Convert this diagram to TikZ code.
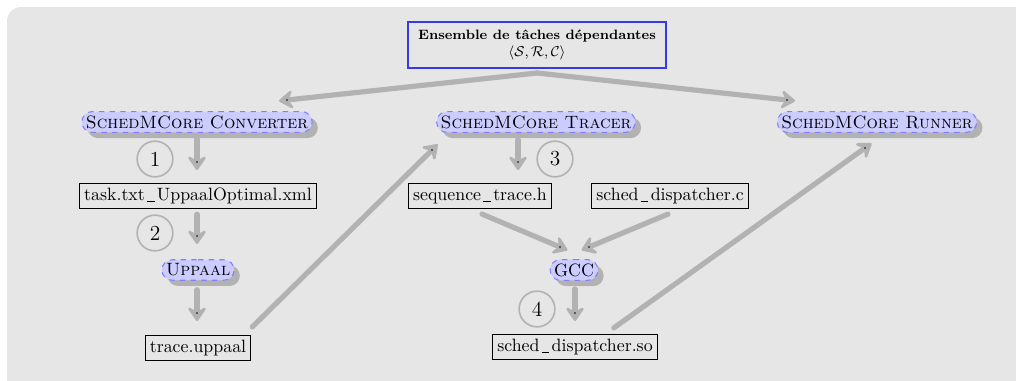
\documentclass[tikz,border=0pt]{standalone}
\usetikzlibrary{arrows.meta,shadows,shapes.misc,calc}
\definecolor{bg}{HTML}{E6E6E6}
\definecolor{ensblue}{rgb}{0.22,0.22,0.92}
\newcommand\myus{\kern.13em\rule[-0.1ex]{0.42em}{0.4pt}\kern.13em}
\begin{document}
\begin{tikzpicture}[x=0.56pt,y=-0.56pt,
 tool/.style={rounded rectangle, fill=blue!20, draw=blue!50, dashed, line width=0.6pt,
   drop shadow={shadow xshift=3.2pt,shadow yshift=-3.2pt,fill=black!30,opacity=1},
   inner xsep=1pt, inner ysep=2.2pt},
 file/.style={draw=black, line width=0.6pt, inner sep=2.6pt},
 num/.style={circle, draw=black!30, line width=0.9pt, minimum size=20pt, inner sep=0pt, font=\large},
 arr/.style={line width=2.9pt, draw=black!30, line cap=round,
   -{Stealth[round,length=9.5pt,width=13pt,inset=3.8pt]}, shorten >=-4.5pt},
]
\useasboundingbox (0,0) rectangle (1016,381);
\begin{scope}
\clip (0,0) rectangle (1016,381);
\fill[bg, rounded corners=8pt] (7,7) rectangle (1040,400);
\end{scope}

% nodes
\node[draw=ensblue, line width=1.1pt, inner xsep=5.5pt, inner ysep=4.3pt, align=center, font=\fontsize{7.6}{9.6}\selectfont] (ens) at (537,45)
  {\textbf{Ensemble de tâches dépendantes}\\$\langle\mathcal{S},\mathcal{R},\mathcal{C}\rangle$};
\node[tool] (conv) at (197,122) {\textsc{SchedMCore Converter}};
\node[tool] (trac) at (536,122) {\textsc{SchedMCore Tracer}};
\node[tool] (run) at (877,122) {\textsc{SchedMCore Runner}};
\node[file] (task) at (198,196) {task.txt\myus UppaalOptimal.xml};
\node[tool] (upp) at (198,270) {\textsc{Uppaal}};
\node[file] (tru) at (198,348) {trace.uppaal};
\node[file] (seq) at (480,196) {sequence\myus trace.h};
\node[file] (disc) at (670,196) {sched\myus dispatcher.c};
\node[tool] (gcc) at (574,270) {GCC};
\node[file] (so) at (575,347) {sched\myus dispatcher.so};

\node[num] (n1) at (155,159) {1};
\node[num] (n2) at (155,233) {2};
\node[num] (n3) at (555,159) {3};
\node[num] (n4) at (537,309) {4};

% arrow end points
\coordinate (top) at (537,73);
\coordinate (dconv) at (287,100);
\coordinate (drun) at (787,100);
\coordinate (dtask) at (197,162);
\coordinate (dupp) at (197,236);
\coordinate (dtru) at (197,313);
\coordinate (dtrac) at (432,150);
\coordinate (dseq) at (518,162);
\coordinate (dg1) at (560,247);
\coordinate (dg2) at (589,247);
\coordinate (dso) at (575,313);
\coordinate (drun2) at (865,148);

\draw[arr] (top) -- (dconv);
\draw[arr] (top) -- (drun);
\draw[arr] ($(conv.south)+(0,6)$) -- (dtask);
\draw[arr] ($(task.south)+(-1,5)$) -- (dupp);
\draw[arr] ($(upp.south)+(-1,9)$) -- (dtru);
\draw[arr] ($(tru.north east)+(1,-8)$) -- (dtrac);
\draw[arr] ($(trac.south)+(-18,7)$) -- (dseq);
\draw[arr] ($(seq.south)+(2,5)$) -- (dg1);
\draw[arr] ($(disc.south)+(-2,5)$) -- (dg2);
\draw[arr] ($(gcc.south)+(1,8)$) -- (dso);
\draw[arr] ($(so.north east)+(-44,-6)$) -- (drun2);
\foreach \c in {dconv,drun,dtask,dupp,dtru,dtrac,dseq,dg1,dg2,dso,drun2}
  \fill (\c) circle (0.45pt);
\end{tikzpicture}
\end{document}
